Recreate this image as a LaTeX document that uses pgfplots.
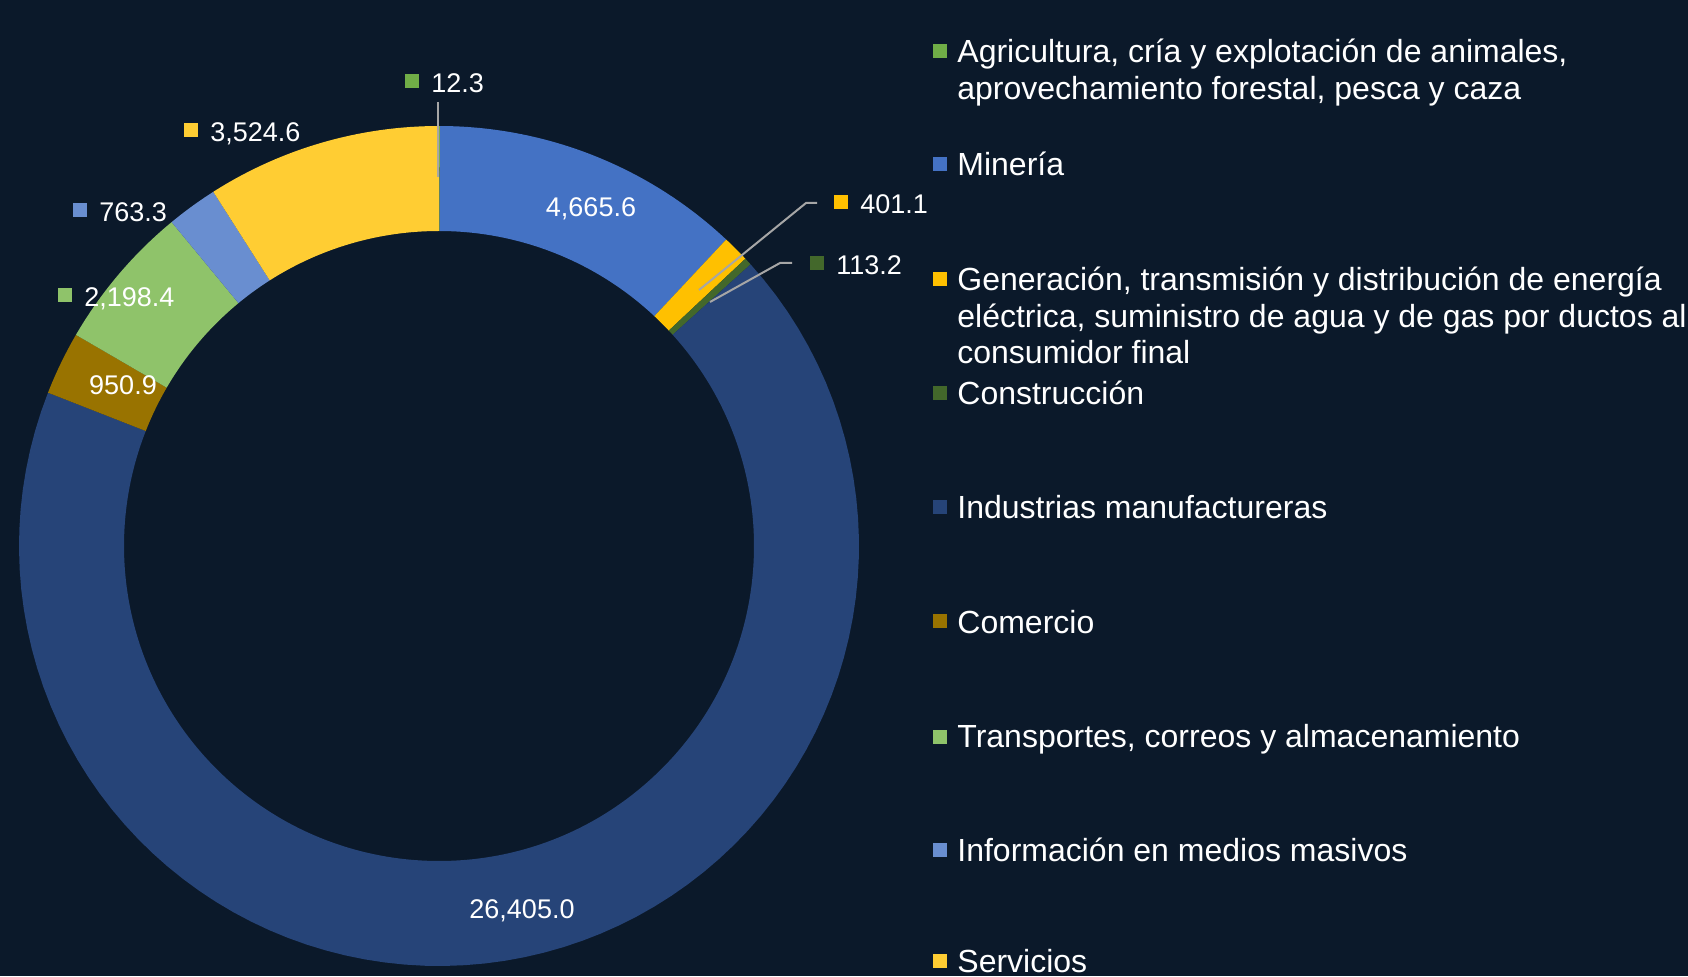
\documentclass[border=0pt]{standalone}
\usepackage{fontspec}
\setmainfont{Liberation Sans}
\usepackage{pgfplots}
\pgfplotsset{compat=1.18}

\definecolor{bg}{HTML}{0B192A}
\definecolor{cAgr}{HTML}{70AD47}
\definecolor{cMin}{HTML}{4472C4}
\definecolor{cGen}{HTML}{FFC000}
\definecolor{cCon}{HTML}{43682B}
\definecolor{cInd}{HTML}{264478}
\definecolor{cCom}{HTML}{997300}
\definecolor{cTra}{HTML}{8FC36A}
\definecolor{cInf}{HTML}{698ED0}
\definecolor{cSer}{HTML}{FFCD33}
\definecolor{lead}{HTML}{A6A6A6}

% valores por sector (sentido horario desde arriba)
\def\vAgr{12.3}
\def\vMin{4665.6}
\def\vGen{401.1}
\def\vCon{113.2}
\def\vInd{26405.0}
\def\vCom{950.9}
\def\vTra{2198.4}
\def\vInf{763.3}
\def\vSer{3524.6}

\edef\total{\fpeval{\vAgr+\vMin+\vGen+\vCon+\vInd+\vCom+\vTra+\vInf+\vSer}}
\edef\aA{90}
\edef\aB{\fpeval{\aA-\vAgr/\total*360}}
\edef\aC{\fpeval{\aB-\vMin/\total*360}}
\edef\aD{\fpeval{\aC-\vGen/\total*360}}
\edef\aE{\fpeval{\aD-\vCon/\total*360}}
\edef\aF{\fpeval{\aE-\vInd/\total*360}}
\edef\aG{\fpeval{\aF-\vCom/\total*360}}
\edef\aH{\fpeval{\aG-\vTra/\total*360}}
\edef\aI{\fpeval{\aH-\vInf/\total*360}}
\edef\aJ{\fpeval{\aI-\vSer/\total*360}}

% centro (439,430), radio exterior 420, interior 315 (1 unidad = 0.5pt)
\newcommand\ring[3]{%
  \addplot[fill=#3, draw=none, domain=#2:#1, samples=90, variable=\t]
    ({439+420*cos(\t)},{430+420*sin(\t)})
    -- (axis cs:{439+315*cos(#1)},{430+315*sin(#1)})
    arc[start angle=#1, end angle=#2, radius=157.5pt] -- cycle;}

\newcommand\num[1]{\pgfmathprintnumber[fixed,fixed zerofill,precision=1,
  1000 sep={,},assume math mode=true]{#1}}
\newcommand\lab[4]{% x, baseline y, color, value
  \fill[#3] (axis cs:#1-26,#2+5) rectangle (axis cs:#1-12,#2+19);
  \node[anchor=base west, inner sep=0pt, text=white, font=\fontsize{13.5}{16}\selectfont]
    at (axis cs:#1,#2) {\num{#4}};}
\newcommand\leg[3]{% baseline y, color, text
  \fill[#2] (axis cs:933,#1+4.5) rectangle (axis cs:947,#1+18.5);
  \node[anchor=base west, inner sep=0pt, text=white, font=\fontsize{16}{18.3}\selectfont]
    at (axis cs:957,#1) {#3};}
\newcommand\legl[1]{% baseline y, continuation line
  \node[anchor=base west, inner sep=0pt, text=white, font=\fontsize{16}{18.3}\selectfont]
    at (axis cs:957,#1)}

\begin{document}
\begin{tikzpicture}
\path[use as bounding box, clip] (0,0) rectangle (844pt,488pt);
\fill[bg] (0,0) rectangle (844pt,488pt);
\begin{axis}[
    at={(0,0)}, anchor=south west,
    scale only axis,
    width=844pt, height=488pt,
    xmin=0, xmax=1688, ymin=0, ymax=976,
    hide axis, clip=false,
]
\ring{\aA}{\aB}{cAgr}
\ring{\aB}{\aC}{cMin}
\ring{\aC}{\aD}{cGen}
\ring{\aD}{\aE}{cCon}
\ring{\aE}{\aF}{cInd}
\ring{\aF}{\aG}{cCom}
\ring{\aG}{\aH}{cTra}
\ring{\aH}{\aI}{cInf}
\ring{\aI}{\aJ}{cSer}

% lineas guia
\draw[lead, line width=1pt] (axis cs:438,874) -- (axis cs:438,799);
\draw[lead, line width=1pt] (axis cs:817,773) -- (axis cs:806,773) -- (axis cs:699,686);
\draw[lead, line width=1pt] (axis cs:792,713) -- (axis cs:780,713) -- (axis cs:710,674);

% etiquetas de datos
\lab{431}{883}{cAgr}{\vAgr}
\lab{210}{834}{cSer}{\vSer}
\lab{99}{754}{cInf}{\vInf}
\lab{84}{669}{cTra}{\vTra}
\lab{860}{762}{cGen}{\vGen}
\lab{836}{701}{cCon}{\vCon}
\node[anchor=base, inner sep=0pt, text=white, font=\fontsize{13.5}{16}\selectfont]
  at (axis cs:123,581) {\num{\vCom}};
\node[anchor=base, inner sep=0pt, text=white, font=\fontsize{13.5}{16}\selectfont]
  at (axis cs:591,759) {\num{\vMin}};
\node[anchor=base, inner sep=0pt, text=white, font=\fontsize{13.5}{16}\selectfont]
  at (axis cs:522,58) {\num{\vInd}};

% leyenda
\leg{913}{cAgr}{Agricultura, cría y explotación de animales,}
\legl{876.5}{aprovechamiento forestal, pesca y caza};
\leg{800}{cMin}{Minería}
\leg{685}{cGen}{Generación, transmisión y distribución de energía}
\legl{648.5}{eléctrica, suministro de agua y de gas por ductos al};
\legl{612}{consumidor final};
\leg{571}{cCon}{Construcción}
\leg{457}{cInd}{Industrias manufactureras}
\leg{343}{cCom}{Comercio}
\leg{228}{cTra}{Transportes, correos y almacenamiento}
\leg{115}{cInf}{Información en medios masivos}
\leg{4}{cSer}{Servicios}
\end{axis}
\end{tikzpicture}
\end{document}
